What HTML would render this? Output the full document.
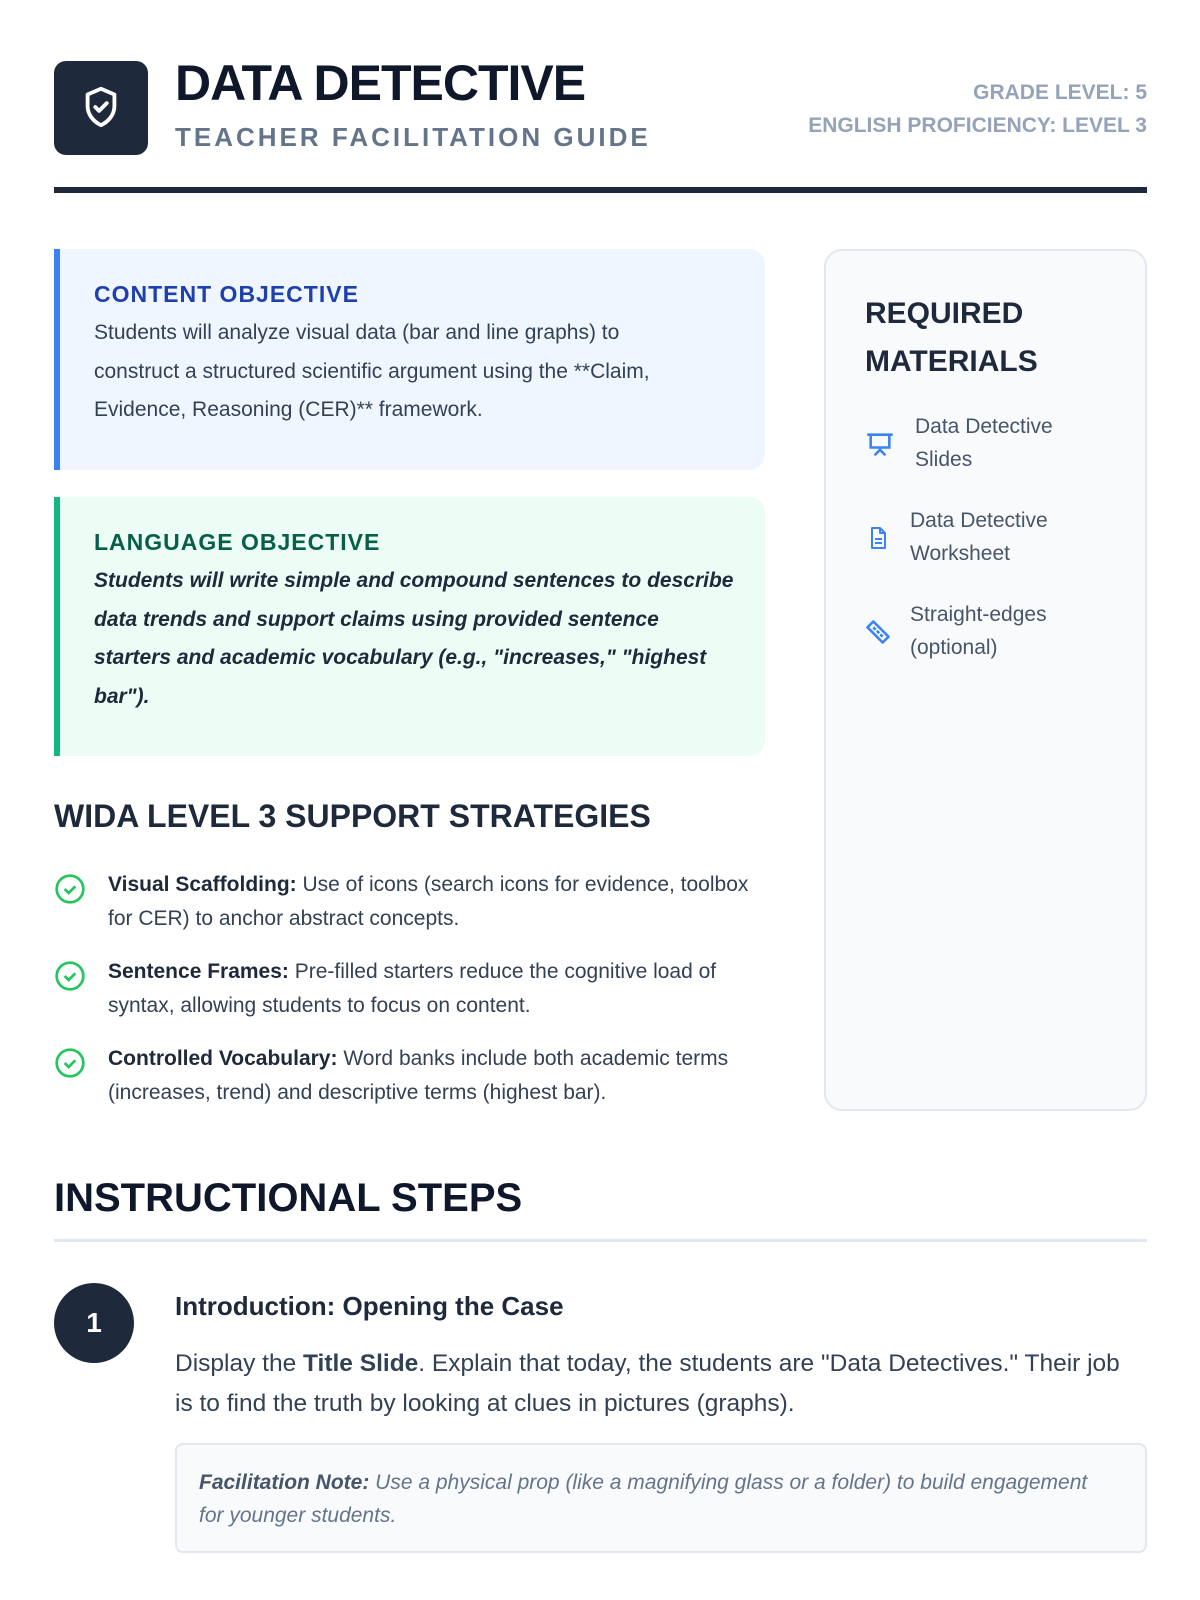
<!DOCTYPE html>
<html><head><meta charset="utf-8"><style>
*{box-sizing:border-box;margin:0;padding:0}
body{width:1200px;height:1600px;background:#fff;font-family:"Liberation Sans",sans-serif;color:#334155;position:relative;overflow:hidden}
.a{position:absolute}
.h{font-weight:bold;color:#0f172a}
</style></head><body>
<div class="a" style="left:54px;top:61px;width:94px;height:94px;background:#1e293b;border-radius:12px"></div>
<svg class="a" style="left:78px;top:84px" width="46" height="46" viewBox="0 0 24 24" fill="none" stroke="#fff" stroke-width="2" stroke-linecap="round" stroke-linejoin="round"><path d="M12 2.5l7 3v6c0 4.5-3 8-7 10-4-2-7-5.5-7-10v-6z"/><path d="M9 12l2 2 4-4"/></svg>
<div class="a h" style="left:175px;top:54px;font-size:50px;letter-spacing:-1px">DATA DETECTIVE</div>
<div class="a" style="left:175px;top:122px;font-size:26px;font-weight:bold;color:#64748b;letter-spacing:3px">TEACHER FACILITATION GUIDE</div>
<div class="a" style="right:53px;top:76px;font-size:21px;font-weight:bold;color:#94a3b8;text-align:right;line-height:33px">GRADE LEVEL: 5<br>ENGLISH PROFICIENCY: LEVEL 3</div>
<div class="a" style="left:54px;top:187px;width:1093px;height:6px;background:#1e293b"></div>

<div class="a" style="left:54px;top:249px;width:711px;height:221px;background:#eff6ff;border-left:6px solid #3b82f6;border-radius:0 16px 16px 0;padding:32px 60px 0 34px">
<div style="font-size:23px;font-weight:bold;color:#1e40af;letter-spacing:1px">CONTENT OBJECTIVE</div>
<div style="font-size:21px;line-height:38.5px;margin-top:6px">Students will analyze visual data (bar and line graphs) to construct a structured scientific argument using the **Claim, Evidence, Reasoning (CER)** framework.</div></div>

<div class="a" style="left:54px;top:497px;width:711px;height:259px;background:#ecfdf5;border-left:6px solid #10b981;border-radius:0 16px 16px 0;padding:32px 26px 0 34px">
<div style="font-size:23px;font-weight:bold;color:#065f46;letter-spacing:1px">LANGUAGE OBJECTIVE</div>
<div style="font-size:21px;line-height:38.5px;margin-top:6px;font-style:italic;font-weight:bold;color:#1e293b">Students will write simple and compound sentences to describe data trends and support claims using provided sentence starters and academic vocabulary (e.g., "increases," "highest bar").</div></div>

<div class="a h" style="left:54px;top:798px;font-size:32px;color:#1e293b">WIDA LEVEL 3 SUPPORT STRATEGIES</div>
<div class="a" style="left:54px;top:868px;width:720px;font-size:21px;line-height:34px;color:#334155">
<div style="position:relative;padding-left:54px;height:87px"><svg style="position:absolute;left:0;top:5px" width="32" height="32" viewBox="0 0 24 24" fill="none" stroke="#22c55e" stroke-width="2"><circle cx="12" cy="12" r="10"/><path d="M8 12l3 3 5-5"/></svg><b style="color:#1e293b">Visual Scaffolding:</b> Use of icons (search icons for evidence, toolbox for CER) to anchor abstract concepts.</div>
<div style="position:relative;padding-left:54px;height:87px"><svg style="position:absolute;left:0;top:5px" width="32" height="32" viewBox="0 0 24 24" fill="none" stroke="#22c55e" stroke-width="2"><circle cx="12" cy="12" r="10"/><path d="M8 12l3 3 5-5"/></svg><b style="color:#1e293b">Sentence Frames:</b> Pre-filled starters reduce the cognitive load of syntax, allowing students to focus on content.</div>
<div style="position:relative;padding-left:54px;height:87px"><svg style="position:absolute;left:0;top:5px" width="32" height="32" viewBox="0 0 24 24" fill="none" stroke="#22c55e" stroke-width="2"><circle cx="12" cy="12" r="10"/><path d="M8 12l3 3 5-5"/></svg><b style="color:#1e293b">Controlled Vocabulary:</b> Word banks include both academic terms (increases, trend) and descriptive terms (highest bar).</div>
</div>

<div class="a" style="left:824px;top:249px;width:323px;height:862px;background:#f8fafc;border:2px solid #e2e8f0;border-radius:18px"></div>
<div class="a h" style="left:865px;top:290px;font-size:30px;line-height:48px;color:#1e293b">REQUIRED<br>MATERIALS</div>
<svg class="a" style="left:866px;top:430px" width="28" height="28" viewBox="0 0 24 24" fill="none" stroke="#3b82f6" stroke-width="2.2" stroke-linecap="round"><path d="M2 4h20M4 4v11h16V4M12 15v2M8 21l4-4 4 4"/></svg>
<div class="a" style="left:915px;top:410px;font-size:21px;line-height:33px;color:#475569">Data Detective<br>Slides</div>
<svg class="a" style="left:866px;top:524px" width="24" height="28" viewBox="0 0 24 24" fill="none" stroke="#3b82f6" stroke-width="2" stroke-linejoin="round"><path d="M6 2h8l5 5v15H6z"/><path d="M14 2v5h5M9 13h7M9 17h7"/></svg>
<div class="a" style="left:910px;top:504px;font-size:21px;line-height:33px;color:#475569">Data Detective<br>Worksheet</div>
<svg class="a" style="left:864px;top:618px" width="28" height="28" viewBox="0 0 24 24" fill="none" stroke="#3b82f6" stroke-width="2.2" stroke-linejoin="round"><path d="M3 8l5-5 13 13-5 5z"/><path d="M8 8l2 2M11 11l2 2M14 14l2 2"/></svg>
<div class="a" style="left:910px;top:598px;font-size:21px;line-height:33px;color:#475569">Straight-edges<br>(optional)</div>

<div class="a h" style="left:54px;top:1176px;font-size:40px;color:#0f172a">INSTRUCTIONAL STEPS</div>
<div class="a" style="left:54px;top:1239px;width:1093px;height:3px;background:#e2e8f0"></div>
<div class="a" style="left:54px;top:1283px;width:80px;height:80px;border-radius:50%;background:#1e293b;color:#fff;font-size:28px;font-weight:bold;text-align:center;line-height:80px">1</div>
<div class="a" style="left:175px;top:1291px;font-size:26px;font-weight:bold;color:#1e293b">Introduction: Opening the Case</div>
<div class="a" style="left:175px;top:1344px;width:945px;font-size:24.5px;line-height:40px;color:#334155">Display the <b>Title Slide</b>. Explain that today, the students are "Data Detectives." Their job is to find the truth by looking at clues in pictures (graphs).</div>
<div class="a" style="left:175px;top:1443px;width:972px;height:110px;background:#f8fafc;border:2px solid #e2e8f0;border-radius:8px;padding:21px 40px 0 22px;font-size:21px;line-height:33px;font-style:italic;color:#64748b"><b style="color:#475569">Facilitation Note:</b> Use a physical prop (like a magnifying glass or a folder) to build engagement for younger students.</div>
</body></html>
